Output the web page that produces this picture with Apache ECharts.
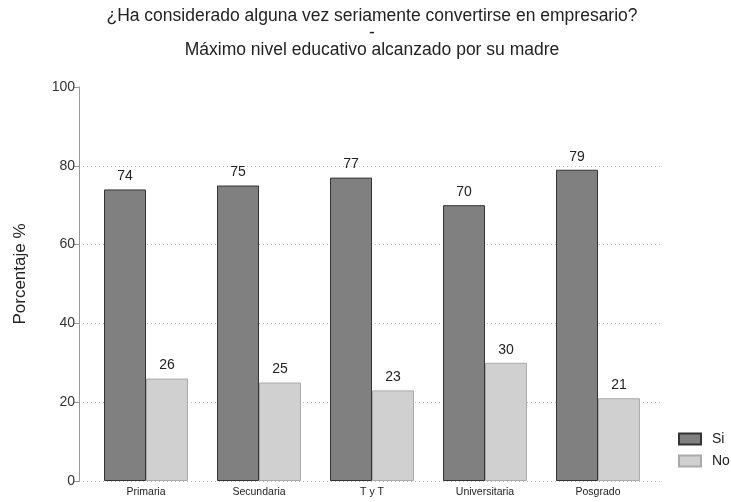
<!DOCTYPE html>
<html><head><meta charset="utf-8">
<script src="https://cdn.jsdelivr.net/npm/echarts@6/dist/echarts.min.js"></script>
<style>html,body{margin:0;padding:0;background:#fff}#c{width:731px;height:502px}</style>
</head><body><div id="c"></div>
<script>
const categories = ['Primaria', 'Secundaria', 'T y T', 'Universitaria', 'Posgrado'];
const siValues = [74, 75, 77, 70, 79];
const noValues = [26, 25, 23, 30, 21];
const yTicks = [0, 20, 40, 60, 80, 100];
const seriesNames = ['Si', 'No'];
const titleLines = ['¿Ha considerado alguna vez seriamente convertirse en empresario?', '-', 'Máximo nivel educativo alcanzado por su madre'];

const F = 'Liberation Sans, Arial, sans-serif';
const chart = echarts.init(document.getElementById('c'));
chart.setOption({
  animation: false,
  textStyle: { fontFamily: F },
  title: titleLines.map((t, i) => ({
    text: t, left: 372, textAlign: 'center', top: 7 + i * 17, padding: 0,
    textStyle: { fontSize: 17.5, fontWeight: 'normal', color: '#222', fontFamily: F }
  })),
  legend: {
    orient: 'vertical', left: 678, top: 432, padding: 0, itemWidth: 22, itemHeight: 11, itemGap: 8,
    icon: 'rect',
    textStyle: { fontSize: 14, color: '#222', fontFamily: F, padding: [0, 0, 0, 6] },
    data: seriesNames
  },
  grid: [
    { left: 79, right: 68, top: 87, bottom: 21 },
    { left: 89.5, right: 76.5, top: 87, bottom: 21 }
  ],
  xAxis: [
    { type: 'value', gridIndex: 0, show: false, min: 0, max: 1 },
    { type: 'category', gridIndex: 1, data: categories,
      axisLine: { show: false }, axisTick: { show: false },
      axisLabel: { fontSize: 10.5, color: '#222', margin: 6, fontFamily: F } }
  ],
  yAxis: [
    { type: 'value', gridIndex: 0, min: yTicks[0], max: yTicks[yTicks.length - 1], interval: 20,
      name: 'Porcentaje %', nameLocation: 'middle', nameGap: 50, nameRotate: 90,
      nameTextStyle: { fontSize: 17, color: '#222', fontFamily: F, padding: [0, 0, 0, 20] },
      axisLine: { show: true, lineStyle: { color: '#999', width: 1 } },
      axisTick: { show: true, length: 6, lineStyle: { color: '#999' } },
      axisLabel: { fontSize: 14, color: '#333', margin: 4, fontFamily: F },
      splitLine: { show: true, showMaxLine: false, lineStyle: { type: [1, 3], color: '#bbb', width: 1 } } },
    { type: 'value', gridIndex: 1, min: 0, max: 100, show: false, splitLine: { show: false } }
  ],
  series: [
    { name: seriesNames[0], type: 'bar', xAxisIndex: 1, yAxisIndex: 1, data: siValues,
      barGap: '0%', barCategoryGap: '25.7%',
      itemStyle: { color: '#808080', borderColor: '#333', borderWidth: 1 },
      label: { show: true, position: 'top', distance: 6, fontSize: 14, color: '#222', fontFamily: F } },
    { name: seriesNames[1], type: 'bar', xAxisIndex: 1, yAxisIndex: 1, data: noValues,
      itemStyle: { color: '#d0d0d0', borderColor: '#aaa', borderWidth: 1 },
      label: { show: true, position: 'top', distance: 6, fontSize: 14, color: '#222', fontFamily: F } }
  ]
});
</script></body></html>
